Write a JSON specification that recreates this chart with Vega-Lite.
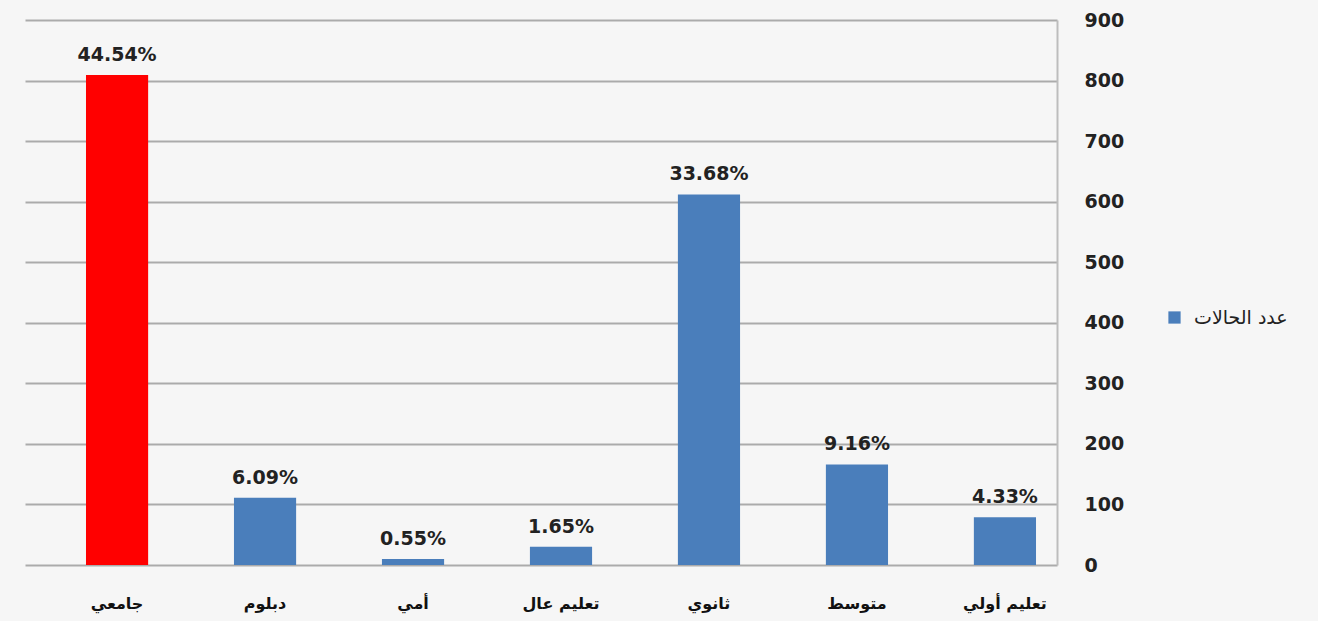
{
  "$schema": "https://vega.github.io/schema/vega-lite/v6.json",
  "width": 1032,
  "height": 545,
  "autosize": "none",
  "padding": {"left": 25, "top": 20, "right": 261, "bottom": 56},
  "background": "#f6f6f6",
  "data": {
    "values": [
      {"cat": "جامعي", "count": 809, "pct": "44.54%", "series": "عدد الحالات"},
      {"cat": "دبلوم", "count": 111, "pct": "6.09%", "series": "عدد الحالات"},
      {"cat": "أمي", "count": 10, "pct": "0.55%", "series": "عدد الحالات"},
      {"cat": "تعليم عال", "count": 30, "pct": "1.65%", "series": "عدد الحالات"},
      {"cat": "ثانوي", "count": 612, "pct": "33.68%", "series": "عدد الحالات"},
      {"cat": "متوسط", "count": 166, "pct": "9.16%", "series": "عدد الحالات"},
      {"cat": "تعليم أولي", "count": 79, "pct": "4.33%", "series": "عدد الحالات"}
    ]
  },
  "config": {
    "view": {"stroke": null},
    "font": "DejaVu Sans"
  },
  "encoding": {
    "x": {
      "field": "cat",
      "type": "nominal",
      "sort": ["جامعي", "دبلوم", "أمي", "تعليم عال", "ثانوي", "متوسط", "تعليم أولي"],
      "scale": {"paddingInner": 0.58, "paddingOuter": 0.277, "align": 0.744},
      "axis": {
        "title": null,
        "domain": false,
        "ticks": false,
        "labelAngle": 0,
        "labelFont": "DejaVu Sans",
        "labelFontWeight": "bold",
        "labelFontSize": 16,
        "labelColor": "#111111",
        "labelPadding": 30
      }
    },
    "y": {
      "field": "count",
      "type": "quantitative",
      "scale": {"domain": [0, 900], "nice": false},
      "axis": {
        "orient": "right",
        "title": null,
        "values": [0, 100, 200, 300, 400, 500, 600, 700, 800, 900],
        "ticks": false,
        "domain": true,
        "domainColor": "#bdbdbd",
        "domainWidth": 2,
        "grid": true,
        "gridColor": "#ababab",
        "gridWidth": 2,
        "labelFont": "DejaVu Sans",
        "labelFontWeight": "bold",
        "labelFontSize": 19,
        "labelColor": "#222222",
        "labelPadding": 27
      }
    }
  },
  "layer": [
    {
      "mark": {"type": "bar"},
      "encoding": {
        "color": {
          "condition": {"test": "datum.cat === 'جامعي'", "value": "#ff0000"},
          "field": "series",
          "type": "nominal",
          "scale": {"range": ["#4a7ebb"]},
          "legend": {
            "title": null,
            "orient": "none",
            "legendX": 1140,
            "legendY": 288,
            "symbolType": "square",
            "symbolSize": 150,
            "symbolStrokeWidth": 0,
            "labelFont": "DejaVu Sans",
            "labelFontSize": 19,
            "labelColor": "#222222",
            "labelOffset": 10
          }
        }
      }
    },
    {
      "mark": {
        "type": "text",
        "dy": -14,
        "baseline": "alphabetic",
        "fontSize": 19,
        "fontWeight": "bold",
        "color": "#222222",
        "font": "DejaVu Sans"
      },
      "encoding": {"text": {"field": "pct"}}
    }
  ]
}
